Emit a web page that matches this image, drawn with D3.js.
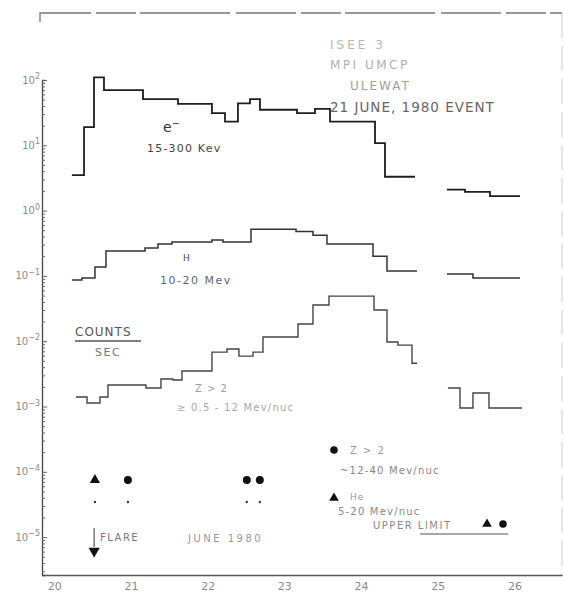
<!DOCTYPE html>
<html>
<head>
<meta charset="utf-8">
<script src="https://cdn.jsdelivr.net/npm/d3@7"></script>
<style>
  body { margin: 0; background: #fff; }
  text { font-family: "DejaVu Sans", sans-serif; }
</style>
</head>
<body>
<div id="plot"></div>
<script>
// Data (day of June 1980, counts/sec)
const dayTicks = [20, 21, 22, 23, 24, 25, 26];
const decades = [-5, -4, -3, -2, -1, 0, 1, 2];

// electrons 15-300 keV: bin edges and counts (null = data gap)
const eEdges = [20.23, 20.388, 20.518, 20.648, 21.157, 21.613, 22.056, 22.226, 22.395, 22.552,
  22.682, 23.165, 23.399, 23.595, 24.182, 24.312, 24.703, 25.12, 25.355, 25.681, 26.072];
const eCounts = [3.5, 19, 110, 70, 51, 43, 31, 23, 44, 51,
  35, 31, 36, 23, 10.8, 3.3, null, 2.1, 1.93, 1.67];

// protons 10-20 MeV
const hEdges = [20.23, 20.36, 20.531, 20.674, 21.183, 21.352, 21.535, 22.056, 22.2, 22.565,
  23.152, 23.373, 23.556, 24.156, 24.338, 24.729, 25.12, 25.459, 26.072];
const hCounts = [0.0865, 0.093, 0.137, 0.24, 0.267, 0.308, 0.33, 0.355, 0.33,
  0.52, 0.48, 0.42, 0.308, 0.2, 0.119, null, 0.107, 0.093];

// Z > 2, 0.5-12 MeV/nuc
const zEdges = [20.283, 20.427, 20.596, 20.7, 21.196, 21.391, 21.548, 21.665, 22.056, 22.252,
  22.408, 22.591, 22.721, 23.178, 23.373, 23.582, 24.169, 24.338, 24.481, 24.664,
  24.729, 25.133, 25.29, 25.459, 25.668, 26.098];
const zCounts = [0.0014, 0.00113, 0.0014, 0.00213, 0.00192, 0.00264, 0.00255, 0.0035, 0.0068,
  0.0076, 0.0059, 0.0068, 0.0116, 0.0183, 0.0358, 0.049, 0.03, 0.0097, 0.0087, 0.0046,
  null, 0.00192, 0.00095, 0.00161, 0.00095];

// upper limits (high-energy He and Z>2)
const limitDays = [20.53, 20.96, 22.51, 22.68];
const limitKinds = ["He", "Z", "Z", "Z"];
const limitValue = 7.5e-5;
const flareDay = 20.52;

const W = 564, H = 594;

const svg = d3.select("#plot")
  .append("svg")
  .attr("width", W)
  .attr("height", H);

// Scales
const x = d3.scaleLinear().domain([19.84, 26.62]).range([42, 562]);
const y = d3.scaleLog().domain([Math.pow(10, 2 - 495 / 65.3), 100]).range([575, 80]);

// frame: top line, faint right edge
svg.append("path")
  .attr("d", "M40,22V13H562")
  .attr("fill", "none")
  .attr("stroke", "#777")
  .attr("stroke-width", 1.3)
  .attr("stroke-dasharray", "60,5,40,4,90,6");
svg.append("line")
  .attr("x1", 562).attr("x2", 562).attr("y1", 13).attr("y2", 575)
  .attr("stroke", "#ccc")
  .attr("stroke-width", 1)
  .attr("stroke-dasharray", "25,8");

// Y axis with log minor ticks
const yTicks = [];
for (let e = -6; e <= 1; e++) {
  for (let m = 1; m <= 9; m++) {
    const v = m * Math.pow(10, e);
    if (v >= y.domain()[0] && v <= 100) yTicks.push(v);
  }
}
yTicks.push(100);

const yAxis = svg.append("g")
  .attr("class", "y-axis")
  .attr("transform", "translate(42,0)")
  .call(d3.axisLeft(y).tickValues(yTicks).tickSize(-3).tickFormat(""));

yAxis.select(".domain").attr("stroke", "#444").attr("stroke-width", 1.3);
yAxis.selectAll(".tick line")
  .attr("stroke", "#666")
  .attr("x2", d => Number.isInteger(Math.log10(d)) ? 5 : 3);

// decade labels 10^n
const yLabels = svg.append("g")
  .attr("fill", "#8a8a8a")
  .style("font-size", "10px");

decades.forEach(e => {
  const t = yLabels.append("text")
    .attr("x", 40)
    .attr("y", y(Math.pow(10, e)))
    .attr("dy", "0.35em")
    .attr("text-anchor", "end");
  t.append("tspan").text("10");
  t.append("tspan")
    .attr("dy", "-0.55em")
    .style("font-size", "8px")
    .text(e === 0 ? "0" : (e < 0 ? "\u2212" + (-e) : String(e)));
});

// X axis
const xAxis = svg.append("g")
  .attr("class", "x-axis")
  .attr("transform", "translate(0,575)")
  .call(d3.axisBottom(x).tickValues(dayTicks).tickSize(0).tickPadding(7).tickFormat(d3.format("d")));

xAxis.select(".domain").attr("stroke", "#555").attr("stroke-width", 1.3);
xAxis.selectAll(".tick text")
  .attr("fill", "#8a8a8a")
  .style("font-size", "11px")
  .style("font-family", "DejaVu Sans, sans-serif");

// step lines
function stepPoints(edges, counts) {
  const pts = [];
  counts.forEach((v, i) => {
    if (v == null) {
      pts.push({ d: edges[i], v: null });
    } else {
      pts.push({ d: edges[i], v: v });
      pts.push({ d: edges[i + 1], v: v });
    }
  });
  return pts;
}

const line = d3.line()
  .defined(p => p.v != null)
  .x(p => x(p.d))
  .y(p => y(p.v));

const series = [
  { name: "e", edges: eEdges, counts: eCounts, color: "#1e1e1e", w: 1.8 },
  { name: "H", edges: hEdges, counts: hCounts, color: "#333", w: 1.5 },
  { name: "Z", edges: zEdges, counts: zCounts, color: "#444", w: 1.4 }
];

svg.selectAll(".line")
  .data(series)
  .enter()
  .append("path")
  .attr("class", "line")
  .attr("d", s => line(stepPoints(s.edges, s.counts)))
  .attr("fill", "none")
  .attr("stroke", s => s.color)
  .attr("stroke-width", s => s.w);

// upper limit markers
const limits = limitDays.map((d, i) => ({ d, kind: limitKinds[i] }));
const sym = k => d3.symbol().type(k === "He" ? d3.symbolTriangle : d3.symbolCircle).size(k === "He" ? 45 : 50)();

svg.selectAll(".limit")
  .data(limits)
  .enter()
  .append("path")
  .attr("class", "limit")
  .attr("transform", p => `translate(${x(p.d)},${y(limitValue)})`)
  .attr("d", p => sym(p.kind))
  .attr("fill", "#111");

svg.selectAll(".limit-dot")
  .data(limits)
  .enter()
  .append("circle")
  .attr("class", "limit-dot")
  .attr("cx", p => x(p.d))
  .attr("cy", y(limitValue) + 22)
  .attr("r", 1.2)
  .attr("fill", "#333");

// flare arrow
svg.append("line")
  .attr("x1", x(flareDay)).attr("x2", x(flareDay))
  .attr("y1", 528).attr("y2", 547)
  .attr("stroke", "#555").attr("stroke-width", 1.2);
svg.append("path")
  .attr("transform", `translate(${x(flareDay)},551) rotate(180)`)
  .attr("d", d3.symbol().type(d3.symbolTriangle).size(55)())
  .attr("fill", "#111");

// text labels
function label(txt, lx, ly, opts = {}) {
  return svg.append("text")
    .attr("x", lx)
    .attr("y", ly)
    .attr("dy", "0.35em")
    .attr("fill", opts.fill || "#555")
    .style("font-size", (opts.size || 11) + "px")
    .style("letter-spacing", (opts.ls || 0) + "px")
    .text(txt);
}

// electrons
const eLab = label("e", 163, 127, { size: 14, fill: "#333" });
eLab.append("tspan").attr("dy", "-0.5em").style("font-size", "10px").text("\u2212");
label("15-300 Kev", 147, 148, { size: 11, ls: 1.2, fill: "#444" });

// protons
label("H", 183, 258, { size: 9, fill: "#444" });
label("10-20 Mev", 160, 280, { size: 11, ls: 1.5, fill: "#666" });

// Z > 2
label("Z > 2", 195, 388, { size: 10, ls: 1, fill: "#a0a0a0" });
label("\u2265 0.5 - 12 Mev/nuc", 177, 407, { size: 10, ls: 1.2, fill: "#a8a8a8" });

// counts / sec
label("COUNTS", 75, 332, { size: 12, ls: 1, fill: "#555" });
svg.append("line")
  .attr("x1", 75).attr("x2", 141).attr("y1", 341).attr("y2", 341)
  .attr("stroke", "#555").attr("stroke-width", 1.5);
label("SEC", 95, 352, { size: 11, ls: 1.5, fill: "#777" });

// title block
label("ISEE 3", 330, 45, { size: 12, ls: 3, fill: "#b8b8b8" });
label("MPI  UMCP", 330, 65, { size: 12, ls: 2.5, fill: "#b0b0b0" });
label("ULEWAT", 350, 86, { size: 12, ls: 2, fill: "#a0a0a0" });
label("21 JUNE, 1980 EVENT", 330, 107, { size: 13.5, ls: 1, fill: "#666" });

// legend
const legend = svg.append("g");
legend.append("path")
  .attr("transform", "translate(334,450)")
  .attr("d", d3.symbol().type(d3.symbolCircle).size(45)())
  .attr("fill", "#111");
label("Z > 2", 350, 450, { size: 10, ls: 1.5, fill: "#999" });
label("~12-40 Mev/nuc", 340, 470, { size: 10, ls: 1.2, fill: "#888" });
legend.append("path")
  .attr("transform", "translate(334,498)")
  .attr("d", d3.symbol().type(d3.symbolTriangle).size(40)())
  .attr("fill", "#111");
label("He", 350, 497, { size: 9, ls: 1, fill: "#999" });
label("5-20 Mev/nuc", 338, 511, { size: 10, ls: 1.2, fill: "#888" });
label("UPPER LIMIT", 373, 525, { size: 10, ls: 1.5, fill: "#888" });
legend.append("path")
  .attr("transform", "translate(487,524)")
  .attr("d", d3.symbol().type(d3.symbolTriangle).size(40)())
  .attr("fill", "#111");
legend.append("path")
  .attr("transform", "translate(503,524)")
  .attr("d", d3.symbol().type(d3.symbolCircle).size(45)())
  .attr("fill", "#111");
svg.append("line")
  .attr("x1", 420).attr("x2", 508).attr("y1", 534).attr("y2", 534)
  .attr("stroke", "#555").attr("stroke-width", 1.2);

// flare / date
label("FLARE", 100, 537, { size: 10, ls: 1.5, fill: "#777" });
label("JUNE 1980", 188, 538, { size: 10, ls: 2.5, fill: "#999" });
</script>
</body>
</html>
